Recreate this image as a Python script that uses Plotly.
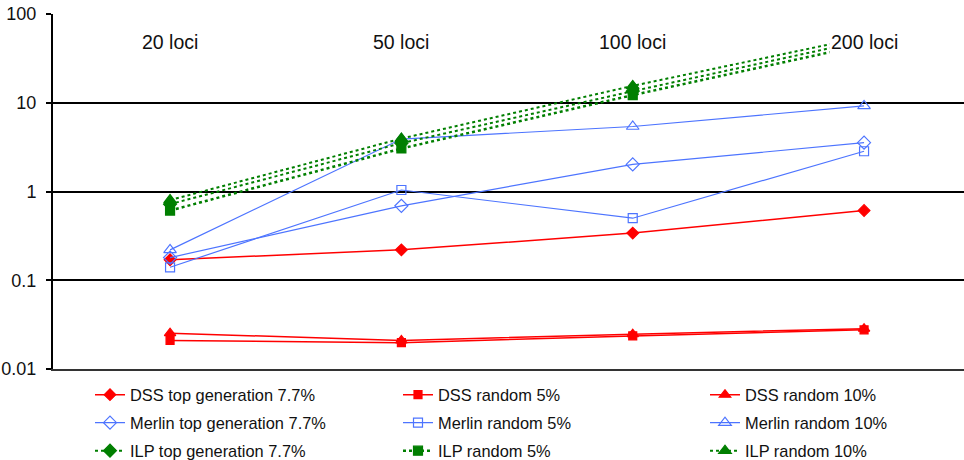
import plotly.graph_objects as go

categories = ["20 loci", "50 loci", "100 loci", "200 loci"]

dss_top = [0.17, 0.22, 0.34, 0.61]
dss_r5 = [0.021, 0.0198, 0.0236, 0.0276]
dss_r10 = [0.0253, 0.021, 0.0247, 0.0285]
merlin_top = [0.18, 0.69, 2.02, 3.55]
merlin_r5 = [0.14, 1.04, 0.50, 2.84]
merlin_r10 = [0.22, 3.9, 5.4, 9.2]
ilp_top = [0.72, 3.5, 13.5, 50]
ilp_r5 = [0.61, 3.05, 12.2, 45]
ilp_r10 = [0.80, 3.95, 15.5, 55]

y_ticks = [0.01, 0.1, 1, 10, 100]
y_tick_labels = ["0.01", "0.1", "1", "10", "100"]

RED = "#FF0000"
BLUE = "#4D74FF"
GREEN = "#007F00"
FONT = "Liberation Sans, Arial, sans-serif"

xs = list(range(len(categories)))

# name, values, color, dash, width, symbol, size, legend row, legend column
series = [
    ("DSS top generation 7.7%", dss_top, RED, "solid", 1.5, "diamond", 9, 0, 0),
    ("DSS random 5%", dss_r5, RED, "solid", 1.5, "square", 8, 0, 1),
    ("DSS random 10%", dss_r10, RED, "solid", 1.5, "triangle-up", 10, 0, 2),
    ("Merlin top generation 7.7%", merlin_top, BLUE, "solid", 1.2, "diamond-open", 10, 1, 0),
    ("Merlin random 5%", merlin_r5, BLUE, "solid", 1.2, "square-open", 9, 1, 1),
    ("Merlin random 10%", merlin_r10, BLUE, "solid", 1.2, "triangle-up-open", 11, 1, 2),
    ("ILP top generation 7.7%", ilp_top, GREEN, "dot", 2, "diamond", 10, 2, 0),
    ("ILP random 5%", ilp_r5, GREEN, "dot", 2.5, "square", 9, 2, 1),
    ("ILP random 10%", ilp_r10, GREEN, "dot", 2, "triangle-up", 11, 2, 2),
]

row_y = [395, 423, 451]
col_x = [90, 398, 705]

fig = go.Figure()
legends = {}
for k, (name, vals, color, dash, width, sym, size, r, c) in enumerate(series):
    lg = "legend" if k == 0 else f"legend{k + 1}"
    fig.add_trace(go.Scatter(
        x=xs, y=vals, name=name, mode="lines+markers",
        line=dict(color=color, dash=dash, width=width),
        marker=dict(symbol=sym, size=size, color=color,
                    line=dict(color=color, width=1.2)),
        legend=lg, cliponaxis=False,
    ))
    legends[lg] = dict(orientation="h", xref="container", yref="container",
                       xanchor="left", yanchor="middle",
                       x=col_x[c] / 964, y=1 - row_y[r] / 460,
                       font=dict(family=FONT, size=16.4, color="#111111"),
                       bgcolor="rgba(0,0,0,0)")

for i, c in enumerate(categories):
    fig.add_annotation(x=i, y=0.921, xref="x", yref="paper", text=c,
                       showarrow=False, bgcolor="white", yanchor="middle",
                       font=dict(family=FONT, size=19.5, color="#111111"))

fig.update_layout(
    width=964, height=460,
    margin=dict(l=53, r=0, t=14, b=91, autoexpand=False),
    paper_bgcolor="white", plot_bgcolor="white",
    font=dict(family=FONT, size=18, color="#111111"),
    xaxis=dict(range=[-0.506, 3.432], showgrid=False, showticklabels=False,
               showline=True, linecolor="#333333", linewidth=2, ticks="",
               zeroline=False),
    yaxis=dict(type="log", range=[-2, 2], tickvals=y_ticks, ticktext=y_tick_labels,
               showgrid=True, gridcolor="#000000", gridwidth=2,
               showline=True, linecolor="#000000", linewidth=2,
               ticks="outside", ticklen=5, tickcolor="#000000", tickwidth=2,
               ticklabelstandoff=6,
               tickfont=dict(family=FONT, size=18, color="#111111"),
               zeroline=False),
    showlegend=True,
    **legends,
)

fig.write_html("out.html",
               config={"displayModeBar": False},
               post_script="document.body.style.margin='0';document.body.style.overflow='hidden';")
